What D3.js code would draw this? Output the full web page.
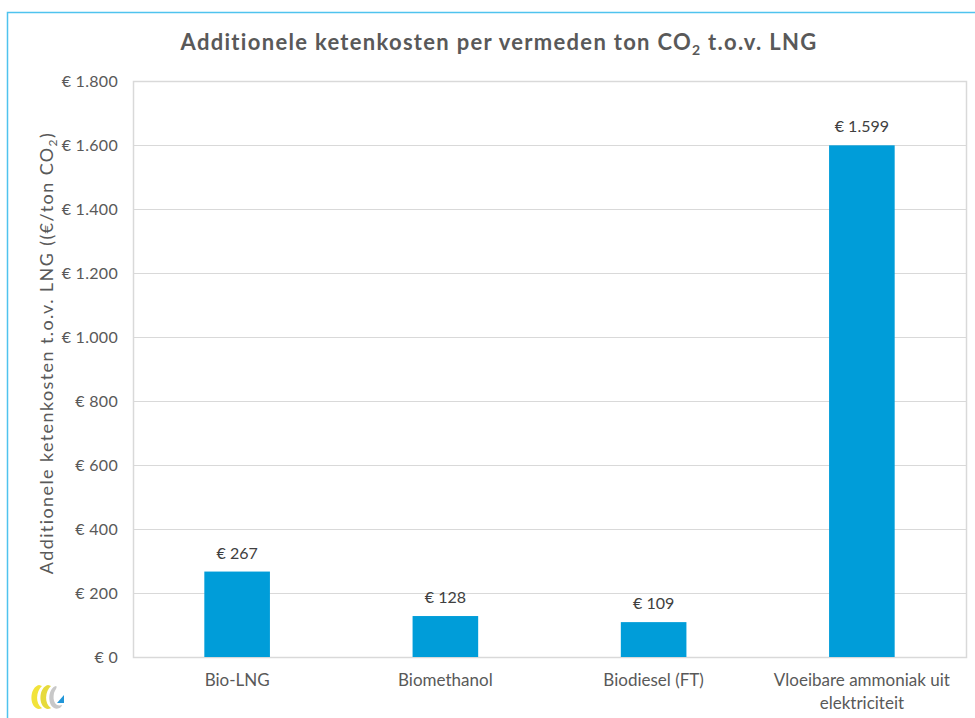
<!DOCTYPE html>
<html>
<head>
<meta charset="utf-8">
<script src="https://cdn.jsdelivr.net/npm/d3@7"></script>
<style>
  body { margin: 0; background: #fff; }
  text { font-family: Lato, "Open Sans", sans-serif; fill: #595959; }
</style>
</head>
<body>
<div id="chart"></div>
<script>
// waarden
const categories = ["Bio-LNG", "Biomethanol", "Biodiesel (FT)", "Vloeibare ammoniak uit elektriciteit"]
const costs = [267, 128, 109, 1599]
const yTicks = [0, 200, 400, 600, 800, 1000, 1200, 1400, 1600, 1800]

const width = 975, height = 718
const margin = {left: 133, top: 81, right: 9, bottom: 61}

const fmt = d => "€ " + d3.format(",")(d).replace(/,/g, ".")

let svg = d3.select("#chart").append("svg")
  .attr("width", width)
  .attr("height", height)

// blauwe kader
svg.append("path")
  .attr("d", "M7.5," + height + " V12.5 H" + width)
  .attr("fill", "none")
  .attr("stroke", "#4fc3ee")
  .attr("stroke-width", 1.5)

let x = d3.scaleBand()
  .domain(categories)
  .range([margin.left, width - margin.right])
  .paddingInner(0.685)
  .paddingOuter(0.3425)

let y = d3.scaleLinear()
  .domain([0, 1800])
  .range([height - margin.bottom, margin.top])

// gridlijnen
svg.append("g")
  .selectAll("line")
  .data(yTicks)
  .enter()
  .append("line")
  .attr("x1", margin.left)
  .attr("x2", width - margin.right)
  .attr("y1", d => Math.round(y(d)) + 0.5)
  .attr("y2", d => Math.round(y(d)) + 0.5)
  .attr("stroke", "#d9d9d9")
  .attr("stroke-width", 1)

// plot kader
svg.append("rect")
  .attr("x", margin.left + 0.5)
  .attr("y", margin.top + 0.5)
  .attr("width", width - margin.right - margin.left)
  .attr("height", height - margin.bottom - margin.top)
  .attr("fill", "none")
  .attr("stroke", "#d9d9d9")
  .attr("stroke-width", 1.5)

// y-as labels
let yAxis = svg.append("g")
  .attr("transform", "translate(" + (margin.left - 15) + ",0)")
  .call(d3.axisLeft(y).tickValues(yTicks).tickFormat(fmt).tickSize(0).tickPadding(0))
yAxis.select(".domain").remove()
yAxis.selectAll("text")
  .style("font-size", "16px")
  .style("font-family", "Lato, sans-serif")
  .style("letter-spacing", "0.3px")
  .attr("fill", "#595959")
  .attr("dy", "0.35em")

// balken
svg.append("g")
  .selectAll("rect")
  .data(costs)
  .enter()
  .append("rect")
  .attr("x", (d, i) => x(categories[i]))
  .attr("y", d => y(d))
  .attr("width", x.bandwidth())
  .attr("height", d => y(0) - y(d))
  .attr("fill", "#009dd9")

// waardelabels
svg.append("g")
  .selectAll("text")
  .data(costs)
  .enter()
  .append("text")
  .attr("x", (d, i) => x(categories[i]) + x.bandwidth() / 2)
  .attr("y", d => y(d) - 13)
  .attr("text-anchor", "middle")
  .style("font-size", "16px")
  .style("fill", "#404040")
  .text(d => fmt(d))

// categorie labels
let catLines = {"Vloeibare ammoniak uit elektriciteit": ["Vloeibare ammoniak uit", "elektriciteit"]}
categories.forEach(c => {
  let lines = catLines[c] || [c]
  let t = svg.append("text")
    .attr("x", x(c) + x.bandwidth() / 2)
    .attr("y", 686)
    .attr("text-anchor", "middle")
    .style("font-size", "17px")
  lines.forEach((l, i) => {
    t.append("tspan")
      .attr("x", x(c) + x.bandwidth() / 2)
      .attr("dy", i == 0 ? 0 : 23)
      .text(l)
  })
})

// titel
let title = svg.append("text")
  .attr("x", 499)
  .attr("y", 50)
  .attr("text-anchor", "middle")
  .style("font-size", "22px")
  .style("font-weight", "bold")
  .style("letter-spacing", "1.3px")
title.append("tspan").text("Additionele ketenkosten per vermeden ton CO")
title.append("tspan").attr("dy", 5).style("font-size", "14px").text("2")
title.append("tspan").attr("dy", -5).text(" t.o.v. LNG")

// y-as titel
let yt = svg.append("text")
  .attr("transform", "translate(53," + 353 + ") rotate(-90)")
  .attr("text-anchor", "middle")
  .style("font-size", "18px")
  .style("letter-spacing", "1.4px")
yt.append("tspan").text("Additionele ketenkosten t.o.v. LNG ((€/ton CO")
yt.append("tspan").attr("dy", 4).style("font-size", "12px").text("2")
yt.append("tspan").attr("dy", -4).text(")")

// logo linksonder
let logo = svg.append("g").attr("transform", "translate(29,682)")
logo.append("path")
  .attr("d", "M10,3 C1,5 0,22 7,26 C10,28 13,26 13,26 C6,22 7,9 13,4 Z")
  .attr("fill", "#f2e33a")
logo.append("path")
  .attr("d", "M19,3 C10,5 9,22 16,26 C19,28 22,26 22,26 C15,22 16,9 22,4 Z")
  .attr("fill", "#e6da3c")
logo.append("path")
  .attr("d", "M27,4 C19,6 18,22 25,26 C29,28 33,25 33,23 C28,25 23,21 25,11 C26,8 29,5 27,4 Z")
  .attr("fill", "#c8c8c8")
logo.append("path")
  .attr("d", "M28,21 L35,13 L35,21 Z")
  .attr("fill", "#2196d8")
</script>
</body>
</html>
